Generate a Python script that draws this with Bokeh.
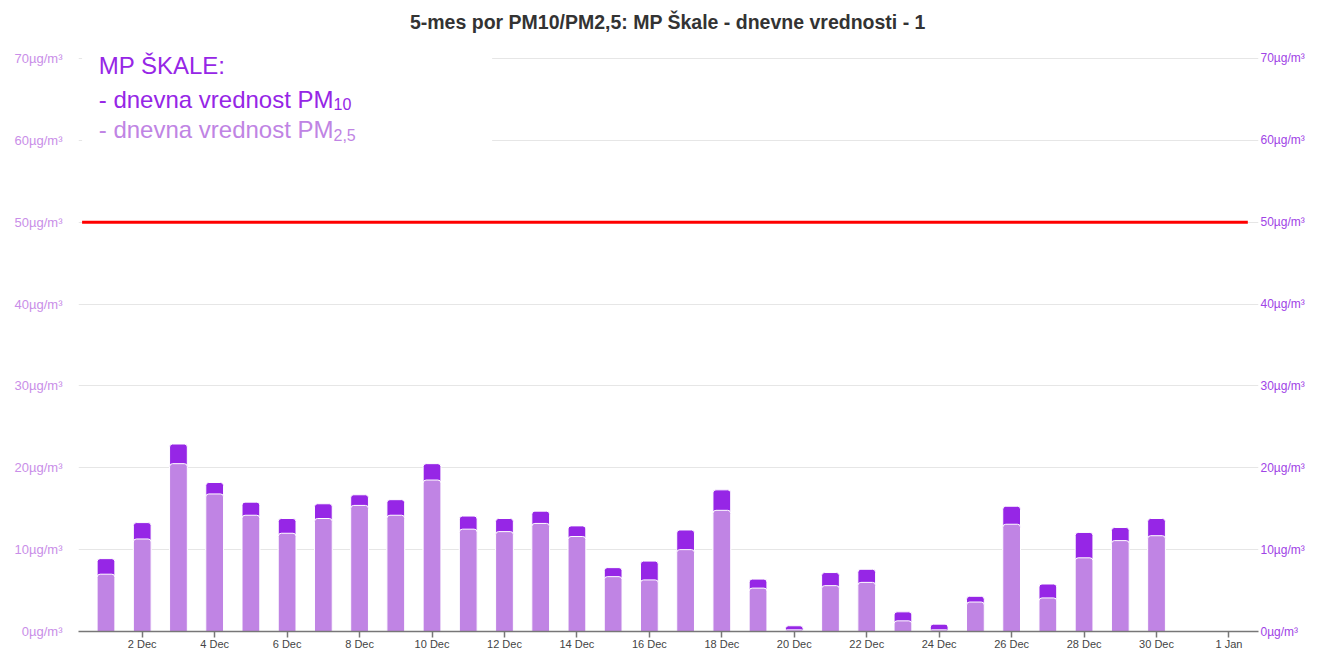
from bokeh.plotting import figure
from bokeh.models import (ColumnDataSource, FixedTicker, LinearAxis, Label,
                          BoxAnnotation, Range1d)
from bokeh.embed import file_html
from bokeh.resources import INLINE

# ---------------- data ----------------
days = list(range(1, 31))  # 1..30 December
pm10 = [8.9, 13.3, 22.9, 18.2, 15.8, 13.8, 15.6, 16.7, 16.1, 20.5,
        14.1, 13.8, 14.7, 12.9, 7.8, 8.6, 12.4, 17.3, 6.4, 0.7,
        7.2, 7.6, 2.4, 0.9, 4.3, 15.3, 5.8, 12.1, 12.7, 13.8]
pm25 = [7.0, 11.3, 20.5, 16.8, 14.2, 12.0, 13.8, 15.4, 14.2, 18.5,
        12.5, 12.2, 13.2, 11.6, 6.7, 6.3, 10.0, 14.8, 5.3, 0.2,
        5.6, 6.0, 1.3, 0.2, 3.6, 13.1, 4.1, 9.0, 11.1, 11.7]

x_tick_pos = [2, 4, 6, 8, 10, 12, 14, 16, 18, 20, 22, 24, 26, 28, 30, 32]
x_tick_labels = ["2 Dec", "4 Dec", "6 Dec", "8 Dec", "10 Dec", "12 Dec",
                 "14 Dec", "16 Dec", "18 Dec", "20 Dec", "22 Dec", "24 Dec",
                 "26 Dec", "28 Dec", "30 Dec", "1 Jan"]
y_ticks = [0, 10, 20, 30, 40, 50, 60, 70]
y_tick_labels = [f"{v}µg/m³" for v in y_ticks]

limit_value = 50
limit_start = 0.34
limit_end = 32.52

title_text = "5-mes por PM10/PM2,5: MP Škale - dnevne vrednosti - 1"
legend_head = "MP ŠKALE:"
legend_pm10 = "- dnevna vrednost PM"
legend_pm10_sub = "10"
legend_pm25 = "- dnevna vrednost PM"
legend_pm25_sub = "2,5"

# ---------------- style ----------------
DARK = "#9626e6"
LIGHT = "#c084e4"
LEFT_LBL = "#c98ee8"
RIGHT_LBL = "#a043e6"
FONT = "Liberation Sans"

src = ColumnDataSource(dict(day=days, pm10=pm10, pm25=pm25))

# frame spans the full height above the x axis (0..632 px); 70 sits at 58 px
p = figure(width=1308, height=652, output_backend="svg", toolbar_location=None,
           title=None,
           x_range=Range1d(0.241, 32.815), y_range=Range1d(0, 77.07),
           min_border_left=78, min_border_right=50, min_border_top=0,
           min_border_bottom=20)
p.outline_line_color = None
p.background_fill_color = "white"
p.border_fill_color = "white"

# grid
p.xgrid.grid_line_color = None
p.ygrid.grid_line_color = "#e6e6e6"
p.ygrid.ticker = FixedTicker(ticks=y_ticks)

# x axis
xa = p.xaxis[0]
xa.ticker = FixedTicker(ticks=x_tick_pos)
xa.major_label_overrides = {k: v for k, v in zip(x_tick_pos, x_tick_labels)}
xa.axis_line_color = "#777777"
xa.axis_line_width = 1.5
xa.major_tick_line_color = "#777777"
xa.major_tick_line_width = 1.5
xa.major_tick_in = 0
xa.major_tick_out = 6
xa.minor_tick_line_color = None
xa.minor_tick_in = 0
xa.minor_tick_out = 0
xa.major_label_standoff = 0
xa.major_label_text_font = FONT
xa.major_label_text_font_size = "11px"
xa.major_label_text_color = "#444444"

# left y axis
ya = p.yaxis[0]
ya.ticker = FixedTicker(ticks=y_ticks)
ya.major_label_overrides = {k: v for k, v in zip(y_ticks, y_tick_labels)}
ya.axis_line_color = None
ya.major_tick_line_color = None
ya.major_tick_in = 0
ya.major_tick_out = 0
ya.minor_tick_line_color = None
ya.minor_tick_in = 0
ya.minor_tick_out = 0
ya.major_label_standoff = 16
ya.major_label_text_font = FONT
ya.major_label_text_font_size = "13px"
ya.major_label_text_color = LEFT_LBL

# right y axis
ra = LinearAxis(ticker=FixedTicker(ticks=y_ticks))
ra.major_label_overrides = {k: v for k, v in zip(y_ticks, y_tick_labels)}
ra.axis_line_color = None
ra.major_tick_line_color = None
ra.major_tick_in = 0
ra.major_tick_out = 0
ra.minor_tick_line_color = None
ra.minor_tick_in = 0
ra.minor_tick_out = 0
ra.major_label_standoff = 2
ra.major_label_text_font = FONT
ra.major_label_text_font_size = "12px"
ra.major_label_text_color = RIGHT_LBL
p.add_layout(ra, "right")

# bars (overlapping: PM10 behind, PM2.5 in front)
p.vbar(x="day", top="pm10", bottom=0, width=0.49, source=src,
       fill_color=DARK, line_color="white", line_width=1,
       border_radius=(3, 3, 0, 0))
p.vbar(x="day", top="pm25", bottom=0, width=0.49, source=src,
       fill_color=LIGHT, line_color="white", line_width=1,
       border_radius=(3, 3, 0, 0))

# legend background box
p.add_layout(BoxAnnotation(left=0.34, right=11.66, bottom=58.8, top=None,
                           fill_color="white", fill_alpha=1.0, line_color=None,
                           level="underlay"))

# limit line
p.segment(x0=[limit_start], x1=[limit_end], y0=[limit_value], y1=[limit_value],
          line_color="#ff0000", line_width=3)

# title
p.add_layout(Label(x=16.51, y=74.39, text=title_text, text_font=FONT,
                   text_font_style="bold", text_font_size="19.5px",
                   text_color="#333333", text_align="center",
                   text_baseline="middle"))

# legend text
lx = 0.80
p.add_layout(Label(x=lx, y=69.1, text=legend_head, text_font=FONT,
                   text_font_size="24px", text_color=DARK,
                   text_baseline="alphabetic"))
p.add_layout(Label(x=lx, y=65.0, text=legend_pm10, text_font=FONT,
                   text_font_size="24px", text_color=DARK,
                   text_baseline="alphabetic"))
p.add_layout(Label(x=7.28, y=64.45, text=legend_pm10_sub, text_font=FONT,
                   text_font_size="16px", text_color=DARK,
                   text_baseline="alphabetic"))
p.add_layout(Label(x=lx, y=61.3, text=legend_pm25, text_font=FONT,
                   text_font_size="24px", text_color=LIGHT,
                   text_baseline="alphabetic"))
p.add_layout(Label(x=7.28, y=60.7, text=legend_pm25_sub, text_font=FONT,
                   text_font_size="16px", text_color=LIGHT,
                   text_baseline="alphabetic"))

open("out.html", "w").write(file_html(p, INLINE))
